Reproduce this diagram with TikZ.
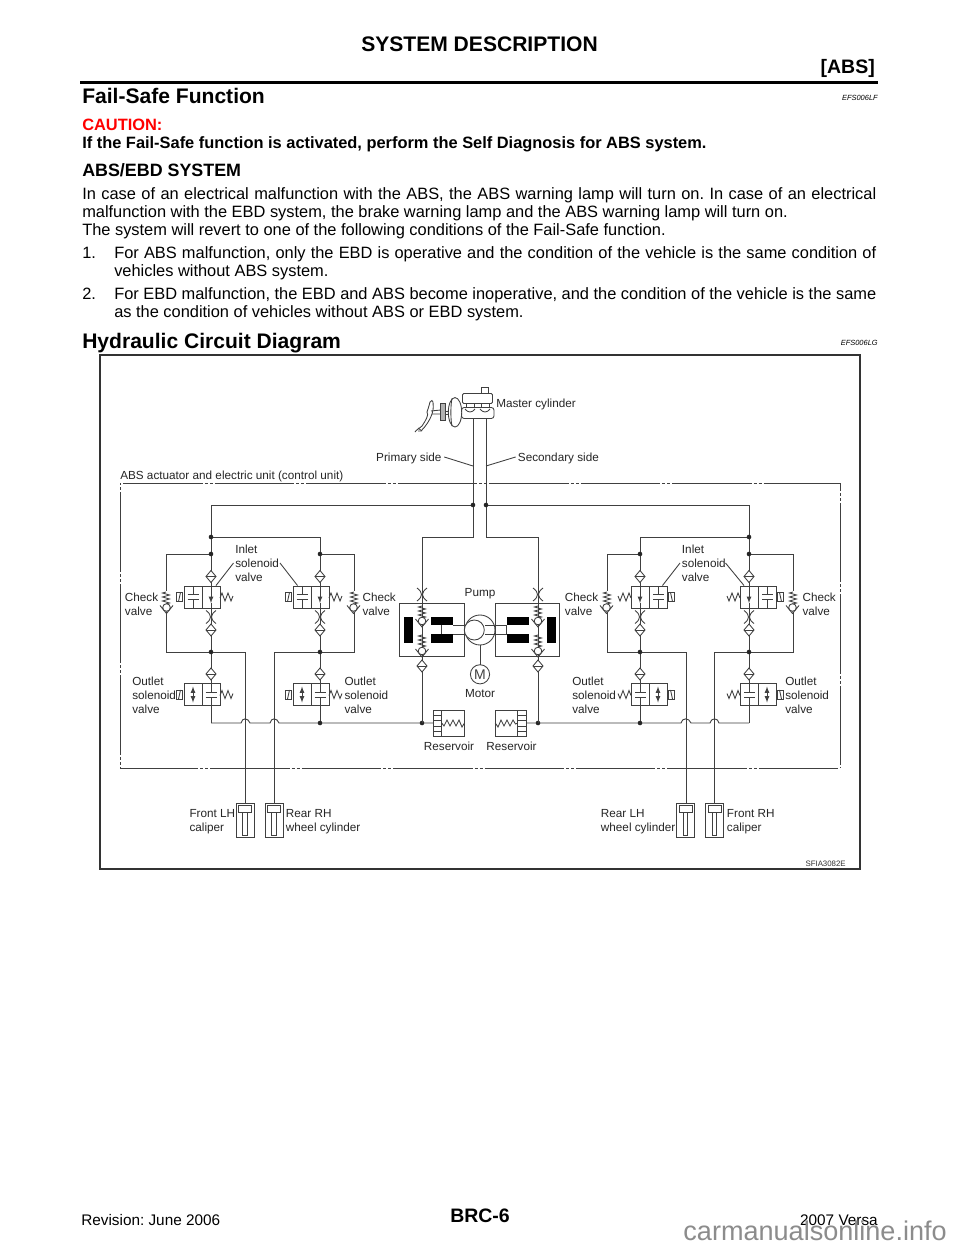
\documentclass[tikz,border=0pt]{standalone}
\usepackage{fontspec}
\setmainfont{Liberation Sans}
\usetikzlibrary{calc}

\tikzset{
	pipe/.style={line width=0.68pt, color=black!75},
	part/.style={line width=0.65pt, color=black!75},
	lbl/.style={anchor=base west, inner sep=0pt, font=\fontsize{8.8}{10}\selectfont, color=black!85},
	body/.style={anchor=base west, inner sep=0pt, font=\fontsize{12.3}{14}\selectfont},
	head/.style={anchor=base west, inner sep=0pt, font=\fontsize{15.8}{18}\selectfont\bfseries},
	code/.style={anchor=base east, inner sep=0pt, font=\fontsize{5.6}{6}\selectfont\itshape},
}
\def\fillline#1#2{\makebox[#1][s]{#2}}
\def\junct(#1){\fill[black!85] (#1) circle (2.3);}
\def\filterdia(#1){\draw[part, fill=white] ($(#1)+(-5,0)$) -- ($(#1)+(0,-6)$) -- ($(#1)+(5,0)$) -- ($(#1)+(0,6)$) -- cycle;
	\draw[part] ($(#1)+(-5,0)$) -- ($(#1)+(5,0)$);}
\def\restrictx(#1){\draw[part] ($(#1)+(-5,-6.5)$) .. controls ($(#1)+(1,-2)$) and ($(#1)+(1,2)$) .. ($(#1)+(-5,6.5)$);
	\draw[part] ($(#1)+(5,-6.5)$) .. controls ($(#1)+(-1,-2)$) and ($(#1)+(-1,2)$) .. ($(#1)+(5,6.5)$);}
\def\coilv(#1){\draw[part] ($(#1)+(0,-6)$) -- ++(-3.5,1) -- ++(7,2) -- ++(-7,2) -- ++(7,2) -- ++(-7,2) -- ++(7,2) -- ++(-3.5,1);}
\def\balls(#1){\draw[part] ($(#1)+(-6.5,-2)$) -- ($(#1)+(0,6)$) -- ($(#1)+(6.5,-2)$);
	\draw[part, fill=white] (#1) circle (3.8);}
\def\vbars(#1){\draw[part] (#1,-11) -- (#1,-2.5) (#1-5.5,-2.5) -- (#1+5.5,-2.5) (#1-5.5,2.5) -- (#1+5.5,2.5) (#1,2.5) -- (#1,11);}
\def\valvebase{\draw[part, fill=white] (-27,-11) rectangle (9,11);
	\draw[part] (-9,-11) -- (-9,11);
	\draw[part] (-34.5,-4.5) rectangle (-28.5,4.5);
	\draw[part] (-32.5,4.5) -- (-30.5,-4.5);
	\draw[part] (9,1) -- (11,-4) -- (14,4) -- (17,-4) -- (20,4) -- (22,-1);}
% inlet and outlet, #2 = 1 or -1 for the mirrored ones
\def\inletvalve(#1)#2{\begin{scope}[shift={(#1)}, xscale=#2]
	\valvebase
	\vbars(-18)
	\draw[part, ->, >=latex] (0,-11) -- (0,6);
	\draw[part] (0,6) -- (0,11);
	\end{scope}}
\def\outletvalve(#1)#2{\begin{scope}[shift={(#1)}, xscale=#2]
	\valvebase
	\vbars(0)
	\draw[part, <->, >=latex] (-18,-8) -- (-18,8);
	\end{scope}}
\def\caliper(#1){\begin{scope}[shift={(#1)}]
	\draw[part, fill=white] (-9,0) rectangle (9,34);
	\draw[part] (-6.5,2) rectangle (6.5,9);
	\draw[part] (-2.3,9) rectangle (2.3,32);
	\end{scope}}

\begin{document}
\frenchspacing
\begin{tikzpicture}[x=0.75pt, y=-0.75pt]
	%%%%% PAGE %%%%%
	\useasboundingbox (0,0) rectangle (960,1242);
	\fill[white] (0,0) rectangle (960,1242);

	\node[anchor=base, inner sep=0pt, font=\fontsize{15.8}{18}\selectfont\bfseries] (title) at (479.5,51) {SYSTEM DESCRIPTION};
	\node[anchor=base east, inner sep=0pt, font=\fontsize{14.6}{18}\selectfont\bfseries] (abs) at (875,73) {[ABS]};
	\fill[black] (80,80.5) rectangle (878,83.5);

	\node[head] (failsafe) at (82,103) {Fail-Safe Function};
	\node[code] (codea) at (878,100) {EFS006LF};
	\node[anchor=base west, inner sep=0pt, color=red, font=\fontsize{12.3}{14}\selectfont\bfseries] (caution) at (82,130) {CAUTION:};
	\node[anchor=base west, inner sep=0pt, font=\fontsize{12.3}{14}\selectfont\bfseries] (warn) at (82,148) {If the Fail-Safe function is activated, perform the Self Diagnosis for ABS system.};
	\node[anchor=base west, inner sep=0pt, font=\fontsize{13.4}{15}\selectfont\bfseries] (system) at (82,176) {ABS/EBD SYSTEM};

	\node[body] (para1) at (82,199) {\fillline{595.5pt}{In case of an electrical malfunction with the ABS, the ABS warning lamp will turn on. In case of an electrical}};
	\node[body] (para2) at (82,217) {malfunction with the EBD system, the brake warning lamp and the ABS warning lamp will turn on.};
	\node[body] (para3) at (82,235) {The system will revert to one of the following conditions of the Fail-Safe function.};
	\node[body] (one) at (82,258) {1.};
	\node[body] (onea) at (114,258) {\fillline{571.5pt}{For ABS malfunction, only the EBD is operative and the condition of the vehicle is the same condition of}};
	\node[body] (oneb) at (114,276) {vehicles without ABS system.};
	\node[body] (two) at (82,299) {2.};
	\node[body] (twoa) at (114,299) {\fillline{571.5pt}{For EBD malfunction, the EBD and ABS become inoperative, and the condition of the vehicle is the same}};
	\node[body] (twob) at (114,317) {as the condition of vehicles without ABS or EBD system.};

	\node[head] (hydro) at (82,348) {Hydraulic Circuit Diagram};
	\node[code] (codeb) at (878,345) {EFS006LG};

	\node[anchor=base west, inner sep=0pt, font=\fontsize{11.5}{13}\selectfont] (rev) at (81,1225) {Revision: June 2006};
	\node[anchor=base, inner sep=0pt, font=\fontsize{14.6}{18}\selectfont\bfseries] (page) at (480,1222) {BRC-6};
	\node[anchor=base east, inner sep=0pt, font=\fontsize{11.5}{13}\selectfont] (model) at (878,1225) {2007 Versa};

	%%%%% FRAME %%%%%
	\draw[line width=1.1pt, color=black!80] (100,355) rectangle (860,869);
	\node[anchor=base east, inner sep=0pt, font=\fontsize{5.9}{7}\selectfont, color=black!80] (sfia) at (846,866) {SFIA3082E};

	\begin{scope}[part, dash pattern=on 59.6pt off 1.5pt on 2.25pt off 1.5pt on 2.25pt off 1.5pt]
		\draw[dash phase=66pt] (120,483) -- (840,483);
		\draw[dash phase=1pt] (120,768) -- (840,768);
		\draw[dash phase=61.5pt] (120,483) -- (120,768);
		\draw[dash phase=53.6pt] (840,483) -- (840,768);
	\end{scope}

	%%%%% PIPES %%%%%
	\coordinate (pa) at (473,418);
	\coordinate (pb) at (473,505);
	\coordinate (pc) at (473,537);
	\coordinate (pd) at (422,537);
	\coordinate (pe) at (422,723);
	\coordinate (sa) at (486,418);
	\coordinate (sb) at (486,505);
	\coordinate (sc) at (486,537);
	\coordinate (sd) at (538,537);
	\coordinate (se) at (538,723);
	\coordinate (la) at (211,505);
	\coordinate (lb) at (211,537);
	\coordinate (lc) at (320,537);
	\coordinate (ra) at (749,505);
	\coordinate (rb) at (749,537);
	\coordinate (rc) at (640,537);

	\draw[pipe] (pa) -- (pc) -- (pd) -- (pe);
	\draw[pipe] (sa) -- (sc) -- (sd) -- (se);
	\draw[pipe] (la) -- (pb);
	\draw[pipe] (sb) -- (ra);
	\draw[pipe] (la) -- (211,723);
	\draw[pipe] (lb) -- (lc) -- (320,723);
	\draw[pipe] (ra) -- (749,723);
	\draw[pipe] (rb) -- (rc) -- (640,723);

	% check valve branches and wheel lines
	\draw[pipe] (211,554) -- (166,554) -- (166,652) -- (245,652) -- (245,803);
	\draw[pipe] (320,554) -- (354,554) -- (354,652) -- (274,652) -- (274,803);
	\draw[pipe] (640,554) -- (607,554) -- (607,652) -- (686,652) -- (686,803);
	\draw[pipe] (749,554) -- (793,554) -- (793,652) -- (714,652) -- (714,803);

	% return lines with hops
	\draw[pipe] (211,723) -- (241,723) .. controls (242,717.5) and (248,717.5) .. (250,723) -- (270,723)
		.. controls (271,717.5) and (277,717.5) .. (279,723) -- (433,723);
	\draw[pipe] (527,723) -- (681,723) .. controls (682,717.5) and (689,717.5) .. (691,723) -- (710,723)
		.. controls (711,717.5) and (718,717.5) .. (719,723) -- (749,723);

	\junct(pb) \junct(sb) \junct(lb) \junct(rb)
	\junct(211,554) \junct(320,554) \junct(640,554) \junct(749,554)
	\junct(211,652) \junct(320,652) \junct(640,652) \junct(749,652)
	\junct(320,723) \junct(640,723) \junct(pe) \junct(se)

	%%%%% MASTER CYLINDER %%%%%
	\draw[part] (481,387.5) rectangle (488.5,393.5);
	\draw[part, fill=white, rounded corners=1] (462.5,393.5) rectangle (492.5,403.5);
	\draw[part, rounded corners=2] (461.5,407.5) rectangle (494,418.5);
	\draw[part] (466,403.5) -- (466,407.5) (474,403.5) -- (474,407.5) (481,403.5) -- (481,407.5) (489,403.5) -- (489,407.5);
	\draw[part] (465,409) .. controls (468,413) and (472,413) .. (475,409);
	\draw[part] (480,409) .. controls (483,413) and (487,413) .. (490,409);
	\draw[part, fill=white] (455,412.3) ellipse (6.7 and 14.7);
	\draw[part] (452,398.5) .. controls (450.5,405) and (450.5,420) .. (452,426);
	\draw[part, fill=black!30] (440.5,403.5) rectangle (445,420.5);
	\draw[part] (445,411) -- (448.5,411) (445,414) -- (448.5,414);
	\draw[part] (440.5,410) -- (431,411) (440.5,414) -- (432,414);
	\draw[part] (430,402) .. controls (431,400) and (433,400) .. (433,402) .. controls (433,405) and (434,408) .. (432,414) .. controls (430,420) and (426,426) .. (421,431) -- (418,431);
	\draw[part] (430,402) .. controls (429,406) and (428,409) .. (427,412) .. controls (429,415) and (426,420) .. (422,426) .. controls (420,428) and (416,430) .. (415,432);
	\draw[part] (422,431) -- (418,428);

	\node[lbl] (master) at (496,407) {Master cylinder};
	\node[lbl, anchor=base east] (primary) at (441.7,461) {Primary side};
	\node[lbl] (secondary) at (517.7,461) {Secondary side};
	\coordinate (pf) at (473,466);
	\coordinate (sf) at (486,466);
	\draw[part] (primary.east) ++(2.5,-1) -- (pf);
	\draw[part] (secondary.west) ++(-2,-1) -- (sf);
	\node[lbl] (unit) at (120,479) {ABS actuator and electric unit (control unit)};

	%%%%% VALVES %%%%%
	\inletvalve(211,597){1}
	\inletvalve(320,597){1}
	\inletvalve(640,597){-1}
	\inletvalve(749,597){-1}
	\outletvalve(211,694.5){1}
	\outletvalve(320,694.5){1}
	\outletvalve(640,694.5){-1}
	\outletvalve(749,694.5){-1}

	\filterdia(211,576.5) \filterdia(320,576.5) \filterdia(640,576.5) \filterdia(749,576.5)
	\filterdia(211,630) \filterdia(320,630) \filterdia(640,630) \filterdia(749,630)
	\filterdia(211,674) \filterdia(320,674) \filterdia(640,674) \filterdia(749,674)
	\restrictx(211,617) \restrictx(320,617) \restrictx(640,617) \restrictx(749,617)

	\fill[white] (162,591) rectangle (170,612);
	\fill[white] (350,591) rectangle (358,612);
	\fill[white] (603,591) rectangle (611,612);
	\fill[white] (789,591) rectangle (797,612);
	\coilv(166,598) \balls(166.5,607.5)
	\coilv(354,598) \balls(353.5,607.5)
	\coilv(607,598) \balls(606.5,607.5)
	\coilv(793,598) \balls(792.5,607.5)

	%%%%% PUMP %%%%%
	\draw[part, fill=white] (399.3,603.3) rectangle (464.3,656.7);
	\draw[part, fill=white] (495.3,603.3) rectangle (559.7,656.7);
	\draw[pipe] (pd) -- (pe);
	\draw[pipe] (sd) -- (se);
	\restrictx(422,594.5) \restrictx(538,594.5)
	\coilv(422,612) \balls(422,621)
	\coilv(422,641) \balls(422,651)
	\coilv(538,612) \balls(538,621)
	\coilv(538,641) \balls(538,651)
	\filterdia(422,666) \filterdia(538,666)

	\fill[black] (404,616.7) rectangle (413.3,643.3);
	\fill[black] (430.7,616.7) rectangle (453.3,625);
	\fill[black] (430.7,634) rectangle (453.3,643.3);
	\draw[part] (441.7,625) -- (441.7,634);
	\draw[part] (453.3,625.7) -- (466,625.7) (453.3,634.3) -- (466,634.3);
	\fill[black] (546.7,616.7) rectangle (555.7,643.3);
	\fill[black] (506.5,616.7) rectangle (529,625);
	\fill[black] (506.5,634) rectangle (529,643.3);
	\draw[part] (506.5,625) -- (506.5,634);
	\draw[part] (485,625.7) -- (506.5,625.7) (485,634.3) -- (506.5,634.3);
	\draw[part] (480,630) circle (15);
	\draw[part, fill=white] (474.3,630) circle (10);
	\draw[part] (480,645) -- (480,665);
	\node[draw, part, circle, minimum size=14.4pt, inner sep=0pt, font=\fontsize{10.5}{11}\selectfont] (motorm) at (480,674.3) {M};
	\node[lbl, anchor=base] (pump) at (480,596) {Pump};
	\node[lbl, anchor=base] (motor) at (480,697) {Motor};

	% reservoirs
	\draw[part, fill=white] (433,710) rectangle (464.5,736.7);
	\draw[part] (441.7,710) -- (441.7,736.7);
	\draw[part] (433,715.3) -- (441.7,715.3) (433,720.7) -- (441.7,720.7) (433,726) -- (441.7,726) (433,731.3) -- (441.7,731.3);
	\draw[part] (441.7,723) -- (444,726) -- (447,720) -- (450,726) -- (453,720) -- (456,726) -- (459,720) -- (462,727) -- (464.5,723);
	\draw[part, fill=white] (495.3,710) rectangle (526.7,736.7);
	\draw[part] (517.7,710) -- (517.7,736.7);
	\draw[part] (517.7,715.3) -- (526.7,715.3) (517.7,720.7) -- (526.7,720.7) (517.7,726) -- (526.7,726) (517.7,731.3) -- (526.7,731.3);
	\draw[part] (495.3,723) -- (498,727) -- (501,720) -- (504,726) -- (507,720) -- (510,726) -- (513,720) -- (515.5,724) -- (517.7,723);
	\node[lbl, anchor=base] (resa) at (449,750) {Reservoir};
	\node[lbl, anchor=base] (resb) at (511.5,750) {Reservoir};

	%%%%% CALIPERS %%%%%
	\caliper(245,803)
	\caliper(274,803)
	\caliper(685.5,803)
	\caliper(714.5,803)

	%%%%% LABELS %%%%%
	\node[lbl] (ina) at (235,553) {Inlet};
	\node[lbl] (inb) at (235,567) {solenoid};
	\node[lbl] (inc) at (235,581) {valve};
	\node[lbl] (ind) at (681.7,553) {Inlet};
	\node[lbl] (ine) at (681.7,567) {solenoid};
	\node[lbl] (inf) at (681.7,581) {valve};
	\draw[part] (233.5,563) -- (216,585.5);
	\draw[part] (280,563) -- (297.5,585.5);
	\draw[part] (680,563) -- (662.5,585.5);
	\draw[part] (725.5,563) -- (744,585.5);

	\node[lbl] (cka) at (124.7,601) {Check};
	\node[lbl] (ckb) at (124.7,615) {valve};
	\node[lbl] (ckc) at (362.3,601) {Check};
	\node[lbl] (ckd) at (362.3,615) {valve};
	\node[lbl] (cke) at (564.7,601) {Check};
	\node[lbl] (ckf) at (564.7,615) {valve};
	\node[lbl] (ckg) at (802.3,601) {Check};
	\node[lbl] (ckh) at (802.3,615) {valve};

	\node[lbl] (outa) at (132,685) {Outlet};
	\node[lbl] (outb) at (132,699) {solenoid};
	\node[lbl] (outc) at (132,713) {valve};
	\node[lbl] (outd) at (344.3,685) {Outlet};
	\node[lbl] (oute) at (344.3,699) {solenoid};
	\node[lbl] (outf) at (344.3,713) {valve};
	\node[lbl] (outg) at (572,685) {Outlet};
	\node[lbl] (outh) at (572,699) {solenoid};
	\node[lbl] (outi) at (572,713) {valve};
	\node[lbl] (outj) at (785,685) {Outlet};
	\node[lbl] (outk) at (785,699) {solenoid};
	\node[lbl] (outl) at (785,713) {valve};

	\node[lbl] (fla) at (189.3,817.5) {Front LH};
	\node[lbl] (flb) at (189.3,831.7) {caliper};
	\node[lbl] (rra) at (285.7,817.5) {Rear RH};
	\node[lbl] (rrb) at (285.7,831.7) {wheel cylinder};
	\node[lbl] (rla) at (600.7,817.5) {Rear LH};
	\node[lbl] (rlb) at (600.7,831.7) {wheel cylinder};
	\node[lbl] (fra) at (726.7,817.5) {Front RH};
	\node[lbl] (frb) at (726.7,831.7) {caliper};

	\node[anchor=base east, inner sep=0pt, color=black!45, font=\fontsize{20.3}{24}\selectfont] (mark) at (947,1240) {carmanualsonline.info};
	%%%%% END %%%%%
\end{tikzpicture}
\end{document}
